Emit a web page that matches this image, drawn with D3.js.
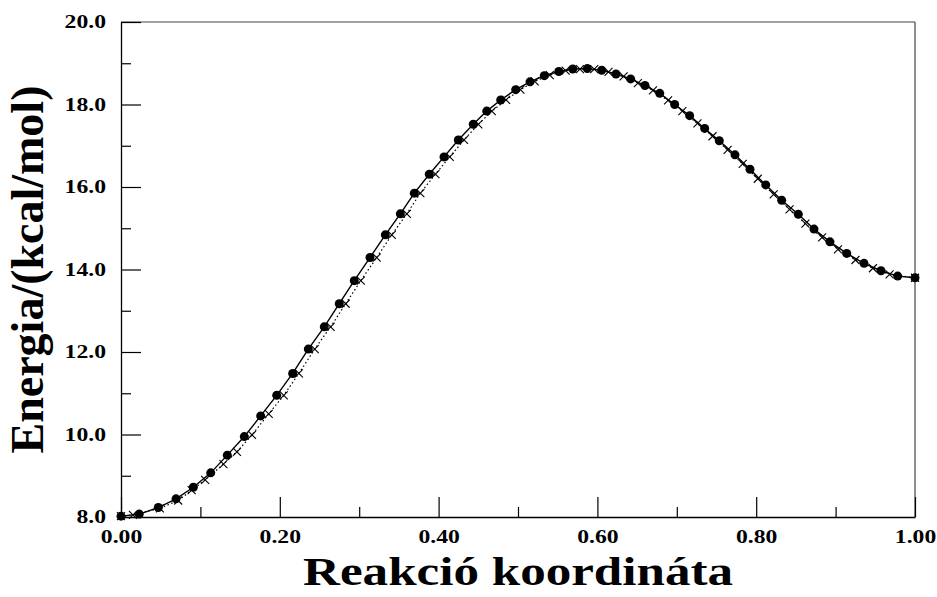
<!DOCTYPE html>
<html>
<head>
<meta charset="utf-8">
<script src="https://cdn.jsdelivr.net/npm/d3@7"></script>
<style>
  html, body { margin: 0; padding: 0; background: #fff; }
  svg { display: block; }
</style>
</head>
<body>
<svg id="chart" width="937" height="597"></svg>
<script>
// ---- data ----
const circleX = [0.000, 0.0230, 0.0470, 0.0693, 0.0911, 0.1130, 0.1339, 0.1553, 0.1759, 0.1961,
  0.2162, 0.2359, 0.2560, 0.2749, 0.2938, 0.3136, 0.3329, 0.3518, 0.3694, 0.3883,
  0.4068, 0.4248, 0.4437, 0.4606, 0.4782, 0.4971, 0.5151, 0.5331, 0.5514, 0.5690,
  0.5873, 0.6054, 0.6234, 0.6419, 0.6599, 0.6785, 0.6973, 0.7162, 0.7351, 0.7535,
  0.7733, 0.7922, 0.8120, 0.8321, 0.8530, 0.8728, 0.8929, 0.9140, 0.9358, 0.9572,
  0.9782, 1.000];
const circleY = [8.02, 8.07, 8.23, 8.44, 8.72, 9.07, 9.50, 9.95, 10.45, 10.95,
  11.48, 12.07, 12.61, 13.17, 13.73, 14.29, 14.84, 15.35, 15.85, 16.31,
  16.73, 17.14, 17.52, 17.84, 18.11, 18.36, 18.55, 18.70, 18.80, 18.86,
  18.87, 18.83, 18.74, 18.62, 18.46, 18.27, 18.00, 17.73, 17.42, 17.12,
  16.78, 16.43, 16.05, 15.68, 15.34, 14.98, 14.67, 14.39, 14.15, 13.97,
  13.84, 13.80];
const crossX = [0.000, 0.015, 0.049, 0.072, 0.089, 0.106, 0.129, 0.146, 0.165, 0.186,
  0.205, 0.224, 0.244, 0.264, 0.283, 0.302, 0.322, 0.341, 0.360, 0.377,
  0.396, 0.414, 0.432, 0.450, 0.467, 0.485, 0.503, 0.521, 0.540, 0.560,
  0.578, 0.596, 0.614, 0.633, 0.651, 0.670, 0.689, 0.707, 0.726, 0.745,
  0.764, 0.783, 0.802, 0.822, 0.842, 0.862, 0.883, 0.903, 0.925, 0.947,
  0.968, 1.000];
const crossY = [8.02, 8.05, 8.21, 8.40, 8.65, 8.90, 9.28, 9.58, 9.99, 10.50,
  10.95, 11.48, 12.07, 12.61, 13.17, 13.73, 14.29, 14.84, 15.35, 15.85,
  16.31, 16.73, 17.14, 17.52, 17.84, 18.11, 18.36, 18.56, 18.71, 18.82,
  18.86, 18.86, 18.79, 18.68, 18.52, 18.34, 18.10, 17.84, 17.54, 17.23,
  16.90, 16.56, 16.20, 15.82, 15.46, 15.11, 14.78, 14.49, 14.23, 14.03,
  13.88, 13.80];
const xMajorTicks = [0.0, 0.2, 0.4, 0.6, 0.8, 1.0];
const xMinorTicks = [0.1, 0.3, 0.5, 0.7, 0.9];
const yMajorTicks = [8, 10, 12, 14, 16, 18, 20];
const yMinorTicks = [9, 11, 13, 15, 17, 19];
const xTitle = "Reakció koordináta";
const yTitle = "Energia/(kcal/mol)";

// ---- layout ----
const FONT = '"Liberation Serif", "Times New Roman", serif';
const mLeft = 121, mRight = 915, mTop = 22, mBottom = 517;
const svg = d3.select("#chart");
const x = d3.scaleLinear().domain([0, 1]).range([mLeft, mRight]);
const y = d3.scaleLinear().domain([8, 20]).range([mBottom, mTop]);

// frame (top & right)
svg.append("line").attr("x1", mLeft).attr("x2", mRight).attr("y1", mTop).attr("y2", mTop)
  .attr("stroke", "#444").attr("stroke-width", 1.2);
svg.append("line").attr("x1", mRight).attr("x2", mRight).attr("y1", mTop).attr("y2", mBottom)
  .attr("stroke", "#444").attr("stroke-width", 1.2);

// axes
function styleAxis(g) {
  g.attr("font-family", FONT);
  g.select(".domain").attr("stroke", "#000").attr("stroke-width", 1.3);
  g.selectAll(".tick line").attr("stroke", "#000").attr("stroke-width", 1.2);
  g.selectAll(".tick text").style("font-family", FONT).style("font-weight", "bold")
    .style("font-size", "18.5px").attr("fill", "#000");
}
const xMajor = svg.append("g").attr("transform", `translate(0,${mBottom})`)
  .call(d3.axisBottom(x).tickValues(xMajorTicks).tickSizeInner(-20).tickSizeOuter(0)
    .tickPadding(13).tickFormat(d3.format(".2f")));
styleAxis(xMajor);
xMajor.selectAll(".tick text").attr("transform", "scale(1.28,1)");
const xMinor = svg.append("g").attr("transform", `translate(0,${mBottom})`)
  .call(d3.axisBottom(x).tickValues(xMinorTicks).tickSizeInner(-10).tickSizeOuter(0).tickFormat(""));
styleAxis(xMinor);
xMinor.select(".domain").remove();

const yMajor = svg.append("g").attr("transform", `translate(${mLeft},0)`)
  .call(d3.axisLeft(y).tickValues(yMajorTicks).tickSizeInner(-20).tickSizeOuter(0)
    .tickPadding(15).tickFormat(d3.format(".1f")));
styleAxis(yMajor);
yMajor.selectAll(".tick text").attr("transform", "scale(1.28,1)").attr("x", -15 / 1.28);
const yMinor = svg.append("g").attr("transform", `translate(${mLeft},0)`)
  .call(d3.axisLeft(y).tickValues(yMinorTicks).tickSizeInner(-10).tickSizeOuter(0).tickFormat(""));
styleAxis(yMinor);
yMinor.select(".domain").remove();

// titles
svg.append("text")
  .attr("transform", `translate(${(mLeft + mRight) / 2},585) scale(1.31,1)`)
  .attr("text-anchor", "middle")
  .style("font-family", FONT).style("font-weight", "bold").style("font-size", "39px")
  .text(xTitle);
svg.append("text").attr("transform", `translate(43,${(mTop + mBottom) / 2}) rotate(-90)`)
  .attr("text-anchor", "middle")
  .style("font-family", FONT).style("font-weight", "bold").style("font-size", "46px")
  .text(yTitle);

// series
const crossPts = crossX.map((d, i) => [d, crossY[i]]);
const circlePts = circleX.map((d, i) => [d, circleY[i]]);
const line = d3.line().x(d => x(d[0])).y(d => y(d[1]));

svg.append("path").datum(crossPts).attr("d", line).attr("fill", "none")
  .attr("stroke", "#000").attr("stroke-width", 1.2).attr("stroke-dasharray", "1.5,2.5");
const cs = 4;
svg.append("g").selectAll("path").data(crossPts).join("path")
  .attr("d", d => `M${x(d[0]) - cs},${y(d[1]) - cs}L${x(d[0]) + cs},${y(d[1]) + cs}M${x(d[0]) - cs},${y(d[1]) + cs}L${x(d[0]) + cs},${y(d[1]) - cs}`)
  .attr("stroke", "#000").attr("stroke-width", 1.1).attr("fill", "none");

svg.append("path").datum(circlePts).attr("d", line).attr("fill", "none")
  .attr("stroke", "#000").attr("stroke-width", 1.4);
svg.append("g").selectAll("circle").data(circlePts).join("circle")
  .attr("cx", d => x(d[0])).attr("cy", d => y(d[1])).attr("r", 4.5).attr("fill", "#000");
</script>
</body>
</html>
